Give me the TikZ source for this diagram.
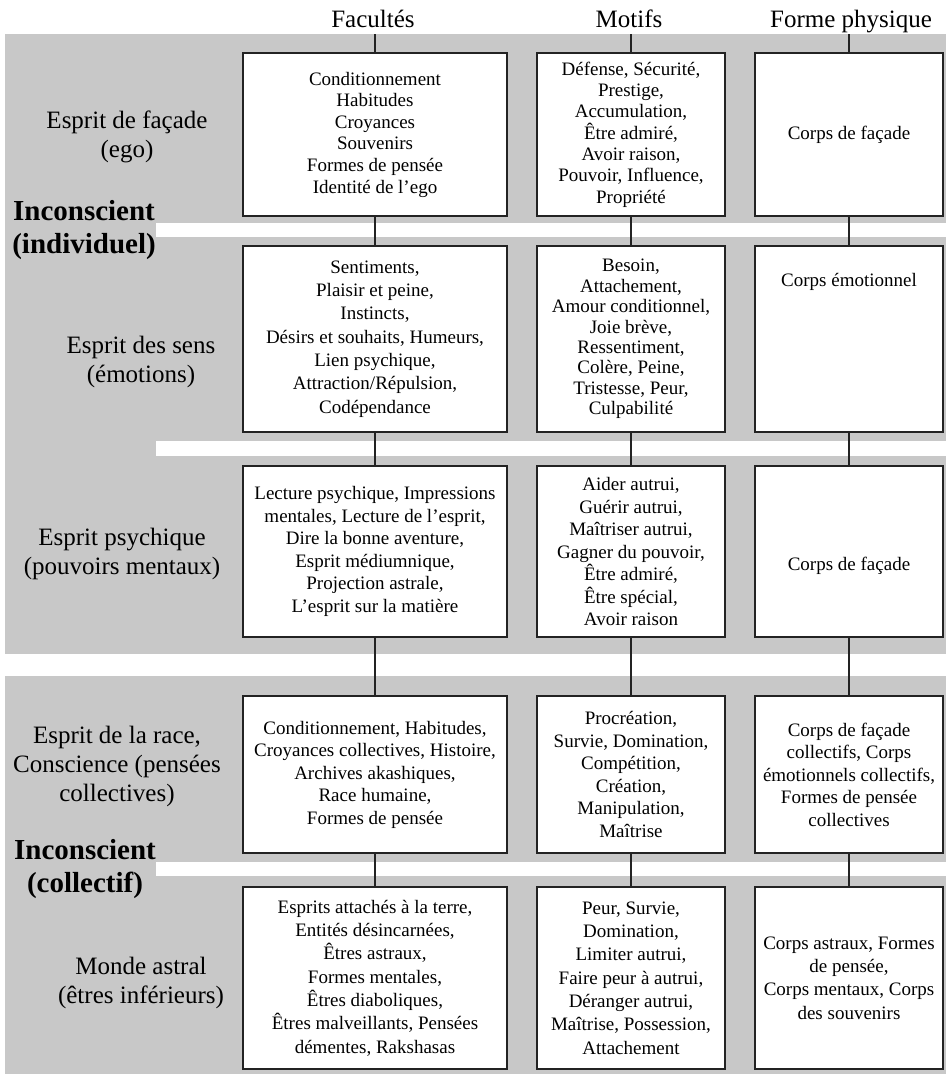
\documentclass[tikz,border=0pt]{standalone}
\usepackage{fontspec}
\setmainfont{Liberation Serif}
\usetikzlibrary{positioning}

\definecolor{fond}{RGB}{200,200,200}
\definecolor{trait}{RGB}{35,35,35}

\begin{document}
\begin{tikzpicture}[x=1pt, y=-1pt,
    cell/.style={rectangle, draw=trait, line width=1.7pt, fill=white, inner sep=0pt,
        align=center, font=\fontsize{19}{22.5}\selectfont},
    fac/.style={cell, minimum width=264pt},
    mot/.style={cell, minimum width=188pt},
    phy/.style={cell, minimum width=188pt},
    entete/.style={anchor=base, font=\fontsize{25}{29}\selectfont},
    niveau/.style={align=center, font=\fontsize{25}{29}\selectfont},
    incons/.style={align=center, font=\bfseries\fontsize{29}{33}\selectfont},
    lien/.style={draw=trait, line width=1.7pt}
]
\useasboundingbox (0,0) rectangle (946,1077);

% fonds gris et bandes blanches
\fill[fond] (5,34) rectangle (946,654);
\fill[fond] (5,676) rectangle (946,1074);
\fill[white] (156,223) rectangle (946,237);
\fill[white] (156,441) rectangle (946,456);
\fill[white] (156,862) rectangle (946,876);

% en-tetes
\node [entete] (tf) at (373,27) {Facultés};
\node [entete] (tm) at (629,27) {Motifs};
\node [entete] (tp) at (851,27) {Forme physique};
\coordinate (hf) at (375,34);
\coordinate (hm) at (631,34);
\coordinate (hp) at (849,34);

% niveaux
\node [niveau] (n1) at (127,137) {Esprit de façade\\(ego)};
\node [incons] (i1) at (84,230) {Inconscient\\(individuel)};
\node [niveau] (n2) at (141,362) {Esprit des sens\\(émotions)};
\node [niveau] (n3) at (122,554) {Esprit psychique\\(pouvoirs mentaux)};
\node [niveau] (n4) at (117,766) {Esprit de la race,\\Conscience (pensées\\collectives)};
\node [incons] (i2) at (85,869) {Inconscient\\(collectif)};
\node [niveau] (n5) at (141,983) {Monde astral\\(êtres inférieurs)};

% rangee 1
\node [fac, minimum height=163pt, font=\fontsize{19}{21.6}\selectfont] (f1) at (375,134.5)
    {Conditionnement\\Habitudes\\Croyances\\Souvenirs\\Formes de pensée\\Identité de l'ego};
\node [mot, minimum height=163pt, font=\fontsize{19}{21.3}\selectfont] (m1) at (631,134.5)
    {Défense, Sécurité,\\Prestige,\\Accumulation,\\Être admiré,\\Avoir raison,\\Pouvoir, Influence,\\Propriété};
\node [phy, minimum height=163pt] (p1) at (849,134.5) {Corps de façade};

% rangee 2
\node [fac, minimum height=186pt, font=\fontsize{19}{23.3}\selectfont] (f2) at (375,339)
    {Sentiments,\\Plaisir et peine,\\Instincts,\\Désirs et souhaits, Humeurs,\\Lien psychique,\\Attraction/Répulsion,\\Codépendance};
\node [mot, minimum height=186pt, font=\fontsize{19}{20.4}\selectfont] (m2) at (631,339)
    {Besoin,\\Attachement,\\Amour conditionnel,\\Joie brève,\\Ressentiment,\\Colère, Peine,\\Tristesse, Peur,\\Culpabilité};
\node [phy, minimum height=186pt] (p2) at (849,339) {};
\node [font=\fontsize{19}{22.5}\selectfont, below=25pt of p2.north] (p2t) {Corps émotionnel};

% rangee 3
\node [fac, minimum height=171pt] (f3) at (375,551.5)
    {Lecture psychique, Impressions\\mentales, Lecture de l'esprit,\\Dire la bonne aventure,\\Esprit médiumnique,\\Projection astrale,\\L'esprit sur la matière};
\node [mot, minimum height=171pt] (m3) at (631,551.5)
    {Aider autrui,\\Guérir autrui,\\Maîtriser autrui,\\Gagner du pouvoir,\\Être admiré,\\Être spécial,\\Avoir raison};
\node [phy, minimum height=171pt] (p3) at (849,551.5) {};
\node [font=\fontsize{19}{22.5}\selectfont] (p3t) at (849,566) {Corps de façade};

% rangee 4
\node [fac, minimum height=157pt] (f4) at (375,774.5)
    {Conditionnement, Habitudes,\\Croyances collectives, Histoire,\\Archives akashiques,\\Race humaine,\\Formes de pensée};
\node [mot, minimum height=157pt] (m4) at (631,774.5)
    {Procréation,\\Survie, Domination,\\Compétition,\\Création,\\Manipulation,\\Maîtrise};
\node [phy, minimum height=157pt] (p4) at (849,774.5)
    {Corps de façade\\collectifs, Corps\\émotionnels collectifs,\\Formes de pensée\\collectives};

% rangee 5
\node [fac, minimum height=182pt, font=\fontsize{19}{23.3}\selectfont] (f5) at (375,978)
    {Esprits attachés à la terre,\\Entités désincarnées,\\Êtres astraux,\\Formes mentales,\\Êtres diaboliques,\\Êtres malveillants, Pensées\\démentes, Rakshasas};
\node [mot, minimum height=182pt, font=\fontsize{19}{23.3}\selectfont] (m5) at (631,978)
    {Peur, Survie,\\Domination,\\Limiter autrui,\\Faire peur à autrui,\\Déranger autrui,\\Maîtrise, Possession,\\Attachement};
\node [phy, minimum height=182pt, font=\fontsize{19}{23.3}\selectfont] (p5) at (849,978)
    {Corps astraux, Formes\\de pensée,\\Corps mentaux, Corps\\des souvenirs};

% liaisons
\draw [lien] (hf) -- (f1) (f1) -- (f2) (f2) -- (f3) (f3) -- (f4) (f4) -- (f5);
\draw [lien] (hm) -- (m1) (m1) -- (m2) (m2) -- (m3) (m3) -- (m4) (m4) -- (m5);
\draw [lien] (hp) -- (p1) (p1) -- (p2) (p2) -- (p3) (p3) -- (p4) (p4) -- (p5);

\end{tikzpicture}
\end{document}
